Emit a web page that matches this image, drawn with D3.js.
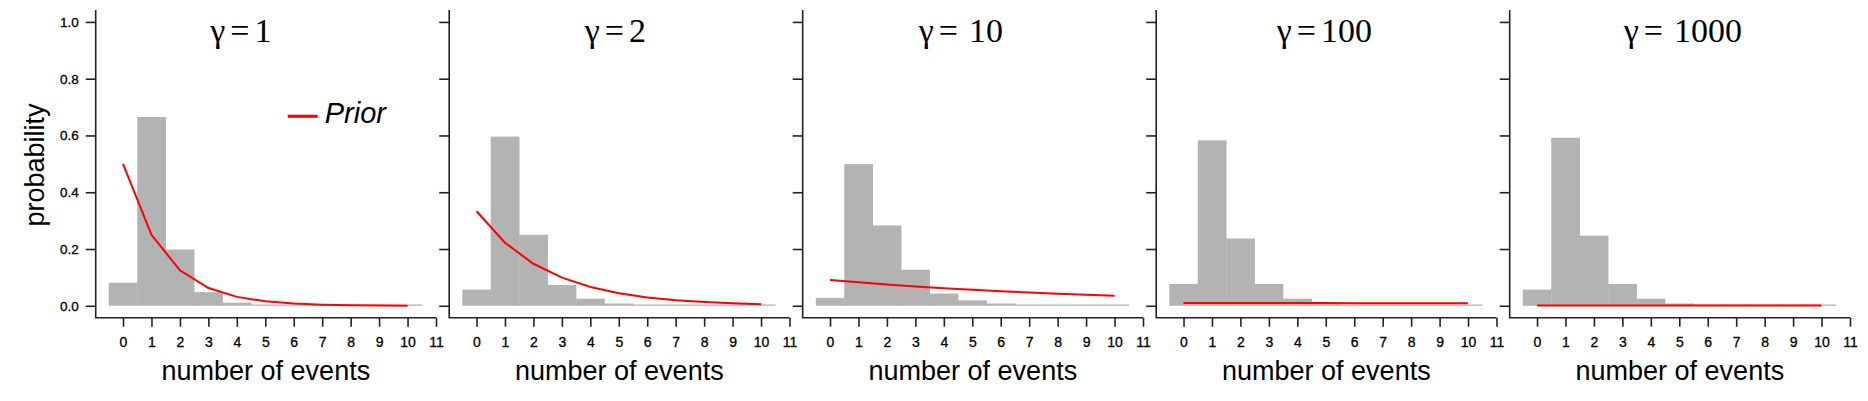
<!DOCTYPE html>
<html>
<head>
<meta charset="utf-8">
<script src="https://cdn.jsdelivr.net/npm/d3@7"></script>
<style>
  body { margin: 0; background: #fff; }
  .tick text { font-family: "Liberation Sans", Arial, sans-serif; fill: #000; stroke: #000; stroke-width: 0.3px; }
</style>
</head>
<body>
<div id="chart"></div>
<script>
// Panel labels (gamma values) and event counts
const gammas = ['1', '2', '10', '100', '1000'];
const counts = [0, 1, 2, 3, 4, 5, 6, 7, 8, 9, 10];

// Posterior probabilities (grey bars)
const posterior1 = [0.081, 0.665, 0.198, 0.048, 0.011, 0.004, 0.002, 0.001, 0.001, 0.001, 0.001];
const posterior2 = [0.057, 0.596, 0.250, 0.073, 0.025, 0.008, 0.004, 0.002, 0.001, 0.001, 0.001];
const posterior3 = [0.028, 0.499, 0.283, 0.127, 0.043, 0.019, 0.008, 0.004, 0.002, 0.001, 0.001];
const posterior4 = [0.077, 0.583, 0.237, 0.077, 0.025, 0.006, 0.002, 0.001, 0.001, 0.001, 0.001];
const posterior5 = [0.057, 0.592, 0.247, 0.077, 0.025, 0.008, 0.002, 0.001, 0.001, 0.001, 0.001];

// Prior probabilities (red lines)
const prior1 = [0.500, 0.250, 0.125, 0.0625, 0.0313, 0.0156, 0.0078, 0.0039, 0.0020, 0.0010, 0.0005];
const prior2 = [0.333, 0.222, 0.148, 0.099, 0.066, 0.044, 0.029, 0.0195, 0.013, 0.0087, 0.0058];
const prior3 = [0.0909, 0.0826, 0.0751, 0.0683, 0.0621, 0.0564, 0.0513, 0.0467, 0.0424, 0.0386, 0.0350];
const prior4 = [0.0099, 0.0098, 0.0097, 0.0096, 0.0095, 0.0094, 0.0093, 0.0092, 0.0091, 0.0090, 0.0089];
const prior5 = [0.0010, 0.0010, 0.0010, 0.0010, 0.0010, 0.0010, 0.0010, 0.0010, 0.0010, 0.0010, 0.0010];

const yTicks = [0, 0.2, 0.4, 0.6, 0.8, 1.0];
const xTicks = [0, 1, 2, 3, 4, 5, 6, 7, 8, 9, 10, 11];

const posteriors = [posterior1, posterior2, posterior3, posterior4, posterior5];
const priors = [prior1, prior2, prior3, prior4, prior5];

const W = 1868, H = 401;
const plotW = 340.3, plotH = 307.7, plotTop = 10;
const firstLeft = 95.7, step = 353.5;
const titleShift = [-25, -4, -12, -2, 3];
const titleGap = [5, 5, 11, 5, 11];

const svg = d3.select('#chart').append('svg')
    .attr('width', W)
    .attr('height', H);

const x = d3.scaleLinear().domain([-0.96, 11]).range([0, plotW]);
const y = d3.scaleLinear().domain([-0.042, 1.042]).range([plotH, 0]);

const line = d3.line()
    .x((d, i) => x(counts[i]))
    .y(d => y(d));

gammas.forEach((g, p) => {
    const panel = svg.append('g')
        .attr('transform', `translate(${firstLeft + p * step},${plotTop})`);

    // bars
    panel.selectAll('rect.bar')
        .data(posteriors[p])
        .enter()
        .append('rect')
        .attr('class', 'bar')
        .attr('x', (d, i) => x(counts[i] - 0.5))
        .attr('width', x(1) - x(0) + 0.3)
        .attr('y', d => Math.min(y(d), y(0) - 1.3))
        .attr('height', d => Math.max(1.3, y(0) - y(d)))
        .attr('fill', '#b3b3b3');

    // prior line
    panel.append('path')
        .datum(priors[p])
        .attr('d', line)
        .attr('fill', 'none')
        .attr('stroke', '#ff0000')
        .attr('stroke-width', 2);

    // L-shaped box
    panel.append('path')
        .attr('d', `M0,0V${plotH}H${plotW}`)
        .attr('fill', 'none')
        .attr('stroke', '#222')
        .attr('stroke-width', 1.6);

    // y axis
    const yAxis = d3.axisLeft(y)
        .tickValues(yTicks)
        .tickSize(10)
        .tickPadding(7)
        .tickFormat(p === 0 ? d3.format('.1f') : '');
    const ya = panel.append('g').call(yAxis);
    ya.select('.domain').remove();
    ya.selectAll('.tick line').attr('stroke', '#222').attr('stroke-width', 1.6);
    ya.selectAll('.tick text').style('font-size', '13.5px');

    // x axis
    const xAxis = d3.axisBottom(x)
        .tickValues(xTicks)
        .tickSize(9)
        .tickPadding(10)
        .tickFormat(d3.format('d'));
    const xa = panel.append('g')
        .attr('transform', `translate(0,${plotH})`)
        .call(xAxis);
    xa.select('.domain').remove();
    xa.selectAll('.tick line').attr('stroke', '#222').attr('stroke-width', 1.6);
    xa.selectAll('.tick text').style('font-size', '14px');

    // x label
    panel.append('text')
        .attr('x', plotW / 2)
        .attr('y', 370)
        .attr('text-anchor', 'middle')
        .style('font-family', '"Liberation Sans", Arial, sans-serif')
        .style('font-size', '27px')
        .text('number of events');

    // title
    const title = panel.append('text')
        .attr('x', plotW / 2 + titleShift[p])
        .attr('y', 32)
        .attr('text-anchor', 'middle')
        .style('font-family', '"Liberation Serif", "Times New Roman", serif')
        .style('font-size', '34px');
    title.append('tspan').text('γ');
    title.append('tspan').attr('dx', 5).text('=');
    title.append('tspan').attr('dx', titleGap[p]).text(g);

    if (p === 0) {
        // legend
        panel.append('line')
            .attr('x1', 192).attr('x2', 222)
            .attr('y1', 106.3).attr('y2', 106.3)
            .attr('stroke', '#ff0000')
            .attr('stroke-width', 3);
        panel.append('text')
            .attr('x', 229)
            .attr('y', 113)
            .style('font-family', '"Liberation Sans", Arial, sans-serif')
            .style('font-style', 'italic')
            .style('font-size', '29px')
            .text('Prior');
    }
});

// y label
svg.append('text')
    .attr('transform', 'translate(44,165) rotate(-90)')
    .attr('text-anchor', 'middle')
    .style('font-family', '"Liberation Sans", Arial, sans-serif')
    .style('font-size', '27px')
    .text('probability');
</script>
</body>
</html>
